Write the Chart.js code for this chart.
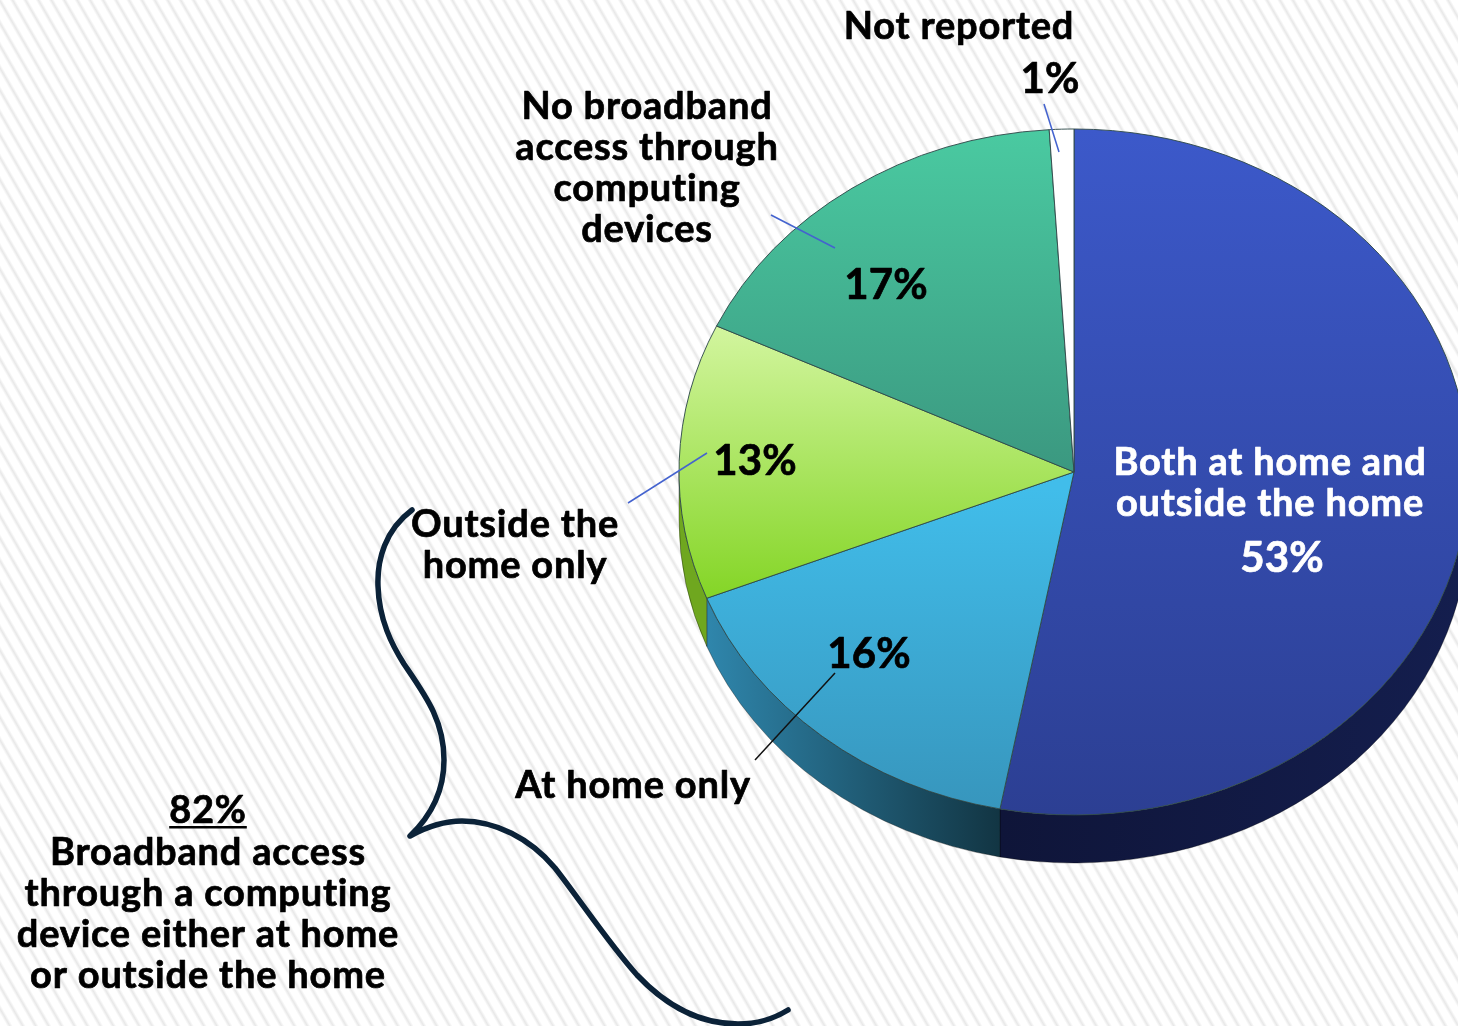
<!DOCTYPE html>
<html>
<head>
<meta charset="utf-8">
<title>Broadband access</title>
<script src="https://cdn.jsdelivr.net/npm/chart.js@4"></script>
<style>
  html, body { margin: 0; padding: 0; overflow: hidden; background: #fff; }
  #wrap {
    width: 1458px; height: 1026px;
    background: repeating-linear-gradient(60deg, #fff 0px, #fff 6px, #e8e8e8 8.6px, #fff 11.2px);
  }
  canvas { display: block; }
</style>
</head>
<body>
<div id="wrap"><canvas id="myChart" width="1458" height="1026"></canvas></div>
<script>
var categories = ['Both at home and outside the home', 'At home only', 'Outside the home only', 'No broadband access through computing devices', 'Not reported'];
var shares = [53, 16, 13, 17, 1];

// slice look: top colour, bottom colour, gradient range as fraction of radius
var topColors = ['#3c59ca', '#41bdea', '#d2f59e', '#4acaa1', '#ffffff'];
var bottomColors = ['#2c3f93', '#3795bc', '#7fd31e', '#3b9880', '#ffffff'];
var shadeFrom = [-1, 0.05, -0.42, -1, -1];
var shadeTo = [1, 1, 0.42, 0, 1];
var wallLeft = ['#0f1539', '#2f86ac', '#6fa71f', '#3b9880', '#ffffff'];
var wallRight = ['#141e4e', '#123543', '#6fa71f', '#3b9880', '#ffffff'];

var squash = 343 / 395;
var depth = 48;
var radius = 395;
var centerY = 472;

var LABEL_FONT = 'bold 38px Lato, sans-serif';
var PCT_FONT = 'bold 42px Lato, sans-serif';

// category labels, split on lines the way the slide has them
var labels = [
  { lines: ['Not reported'], x: 959, y: 39, lh: 41 },
  { lines: ['No broadband', 'access through', 'computing', 'devices'], x: 647, y: 119, lh: 41 },
  { lines: ['Outside the', 'home only'], x: 515, y: 537, lh: 41 },
  { lines: ['At home only'], x: 633, y: 798, lh: 41 },
  { lines: ['Both at home and', 'outside the home'], x: 1270, y: 475, lh: 41, color: '#fff' },
  { lines: ['Broadband access', 'through a computing', 'device either at home', 'or outside the home'], x: 208, y: 865, lh: 41 }
];
// percent labels, same order as shares
var pctX = [1282, 869, 755, 886, 1050];
var pctY = [572, 668, 475, 299, 93];
var pctColor = ['#fff', '#000', '#000', '#000', '#000'];

var leaders = [
  [1044, 104, 1059, 152, '#4463cf'],
  [771, 215, 835, 248, '#4463cf'],
  [707, 453, 628, 503, '#4463cf'],
  [835, 673, 755, 760, '#111111']
];

function drawWalls(chart) {
  var ctx = chart.ctx;
  var arcs = chart.getDatasetMeta(0).data;
  arcs.forEach(function (arc, i) {
    var a0 = Math.max(arc.startAngle, 0);
    var a1 = Math.min(arc.endAngle, Math.PI);
    if (a1 <= a0) return;
    var x0 = arc.x + Math.cos(a1) * arc.outerRadius;
    var x1 = arc.x + Math.cos(a0) * arc.outerRadius;
    var g = ctx.createLinearGradient(x0, 0, x1, 0);
    g.addColorStop(0, wallLeft[i]);
    g.addColorStop(1, wallRight[i]);
    ctx.beginPath();
    ctx.arc(arc.x, arc.y, arc.outerRadius, a0, a1);
    ctx.arc(arc.x, arc.y + depth / squash, arc.outerRadius, a1, a0, true);
    ctx.closePath();
    ctx.fillStyle = g;
    ctx.fill();
    ctx.strokeStyle = 'rgba(0,0,0,0.45)';
    ctx.lineWidth = 0.8;
    ctx.stroke();
  });
}

function drawBrace(ctx) {
  ctx.beginPath();
  ctx.moveTo(412, 510);
  ctx.bezierCurveTo(385, 530, 377, 560, 378, 586);
  ctx.bezierCurveTo(379, 620, 392, 645, 404, 664);
  ctx.bezierCurveTo(425, 695, 444, 720, 444, 760);
  ctx.bezierCurveTo(444, 790, 432, 815, 410, 836);
  ctx.bezierCurveTo(430, 825, 445, 821, 462, 821);
  ctx.bezierCurveTo(495, 821, 530, 838, 555, 868);
  ctx.bezierCurveTo(580, 900, 610, 945, 637, 975);
  ctx.bezierCurveTo(670, 1010, 705, 1024, 738, 1024);
  ctx.bezierCurveTo(755, 1024, 772, 1020, 788, 1010);
  ctx.strokeStyle = '#0b2238';
  ctx.lineWidth = 5.5;
  ctx.lineCap = 'round';
  ctx.lineJoin = 'round';
  ctx.stroke();
}

// Lato bold is lighter than the slide's face, so thicken it a little
function heavyText(ctx, text, x, y, color) {
  ctx.fillStyle = color;
  ctx.strokeStyle = color;
  ctx.lineWidth = 0.7;
  ctx.lineJoin = 'round';
  ctx.fillText(text, x, y);
  ctx.strokeText(text, x, y);
}

var slidePlugin = {
  id: 'slide',
  beforeDatasetsDraw: function (chart) {
    var ctx = chart.ctx;
    var y = chart.getDatasetMeta(0).data[0].y;
    ctx.save();
    ctx.translate(0, y);
    ctx.scale(1, squash);
    ctx.translate(0, -y);
    drawWalls(chart);
  },
  afterDatasetsDraw: function (chart) {
    var ctx = chart.ctx;
    ctx.restore();

    leaders.forEach(function (l) {
      ctx.beginPath();
      ctx.moveTo(l[0], l[1]);
      ctx.lineTo(l[2], l[3]);
      ctx.strokeStyle = l[4];
      ctx.lineWidth = 1.5;
      ctx.stroke();
    });
    drawBrace(ctx);

    ctx.save();
    ctx.textAlign = 'center';
    ctx.textBaseline = 'alphabetic';
    ctx.letterSpacing = '0.8px'; // also stops the "ti" ligature
    ctx.font = LABEL_FONT;
    labels.forEach(function (lab) {
      lab.lines.forEach(function (line, n) {
        heavyText(ctx, line, lab.x, lab.y + n * lab.lh, lab.color || '#000');
      });
    });

    heavyText(ctx, '82%', 208, 823, '#000');
    var w = ctx.measureText('82%').width;
    ctx.fillStyle = '#000';
    ctx.fillRect(208 - w / 2, 826, w, 2.5);

    ctx.letterSpacing = '0.1px';
    ctx.font = PCT_FONT;
    shares.forEach(function (v, i) {
      heavyText(ctx, v + '%', pctX[i], pctY[i], pctColor[i]);
    });
    ctx.restore();
  }
};

function sliceFill(c) {
  var i = c.dataIndex;
  var g = c.chart.ctx.createLinearGradient(0, centerY + shadeFrom[i] * radius, 0, centerY + shadeTo[i] * radius);
  g.addColorStop(0, topColors[i]);
  g.addColorStop(1, bottomColors[i]);
  return g;
}

var ctx = document.getElementById('myChart').getContext('2d');
var myChart = new Chart(ctx, {
  type: 'pie',
  data: {
    labels: categories,
    datasets: [{
      data: shares,
      backgroundColor: sliceFill,
      borderColor: '#2f4a4a',
      borderWidth: 1,
      radius: radius,
      clip: false
    }]
  },
  options: {
    responsive: false,
    devicePixelRatio: 1,
    animation: false,
    layout: { padding: { left: 690, bottom: 82 } },
    plugins: { legend: { display: false }, tooltip: { enabled: false } }
  },
  plugins: [slidePlugin]
});
</script>
</body>
</html>
